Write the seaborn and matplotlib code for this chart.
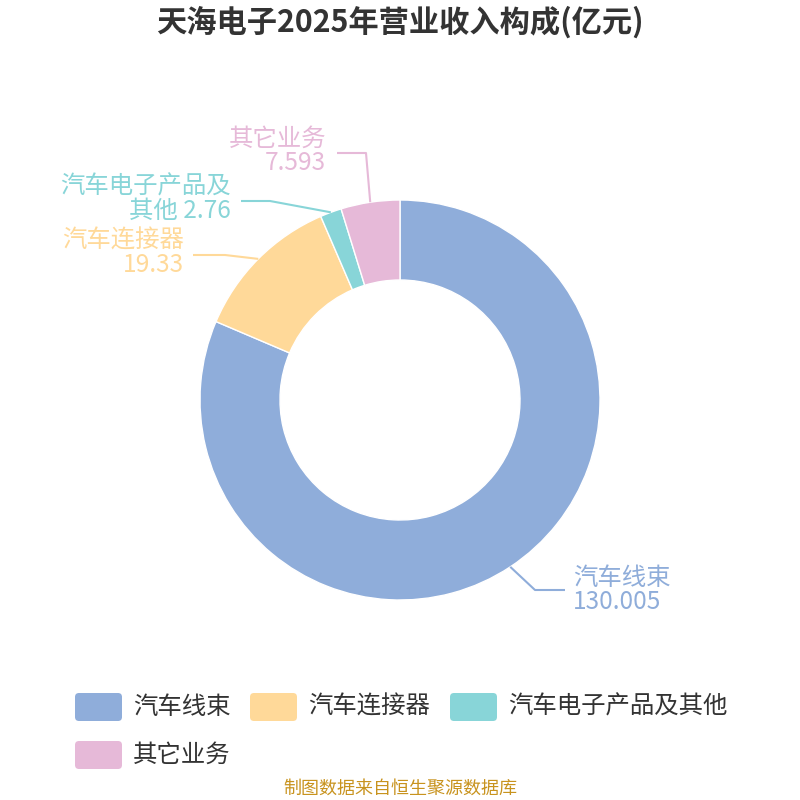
import numpy as np
import matplotlib
matplotlib.use("Agg")
import matplotlib.pyplot as plt
from matplotlib.patches import FancyBboxPatch
import seaborn as sns

# ---- data ----
categories = ["汽车线束", "汽车连接器", "汽车电子产品及其他", "其它业务"]
values = [130.005, 19.33, 2.76, 7.593]
label_texts = ["汽车线束\n130.005", "汽车连接器\n19.33", "汽车电子产品及\n其他 2.76", "其它业务\n7.593"]
colors = ["#8FADDA", "#FFD999", "#88D5D8", "#E6B9D8"]
title = "天海电子2025年营业收入构成(亿元)"
source = "制图数据来自恒生聚源数据库"

sns.set_theme(style="white")
plt.rcParams["font.family"] = ["Noto Sans CJK SC", "DejaVu Sans"]

fig = plt.figure(figsize=(8, 8), dpi=100)
ax = fig.add_axes([0, 0, 1, 1])

def Y(py):
    return 800 - py

cx, cy, R, W = 400, 400, 200, 80
ax.pie(values, colors=colors, startangle=90, counterclock=False,
       radius=R, center=(cx, Y(cy)),
       wedgeprops=dict(width=W, edgecolor="white", linewidth=1))
ax.set_xlim(0, 800)
ax.set_ylim(0, 800)
ax.set_aspect("equal")
ax.axis("off")

# label layout (pixel coords): elbow point, end of horizontal line, text anchor
total = sum(values)
cum = np.cumsum([0] + values)
layout = [
    dict(elbow=(535, 590), end=(565, 590), text=(573, 590), ha="left"),
    dict(elbow=(225, 255), end=(193, 255), text=(184, 253), ha="right"),
    dict(elbow=(270, 201), end=(241, 201), text=(231, 199), ha="right"),
    dict(elbow=(366, 153), end=(337, 153), text=(326, 151), ha="right"),
]
for i, v in enumerate(values):
    mid = (cum[i] + v / 2) / total * 360.0
    ang = np.deg2rad(90 - mid)
    ox = cx + R * np.cos(ang)
    oy = cy - R * np.sin(ang)
    L = layout[i]
    xs = [ox, L["elbow"][0], L["end"][0]]
    ys = [Y(oy), Y(L["elbow"][1]), Y(L["end"][1])]
    ax.plot(xs, ys, color=colors[i], lw=1.5, solid_capstyle="butt")
    ax.text(L["text"][0], Y(L["text"][1]), label_texts[i], color=colors[i],
            fontsize=17.6, ha=L["ha"], va="center", linespacing=0.92,
            multialignment="right" if L["ha"] == "right" else "left")

# title
fig.text(0.5, 1 - 22 / 800, title, ha="center", va="center",
         fontsize=21.8, fontweight="bold", color="#333333")

# legend (manual, rounded boxes)
leg_items = [(75, 707), (250, 707), (450, 707), (75, 755)]
for (lx, ly), name, col in zip(leg_items, categories, colors):
    box = FancyBboxPatch((lx + 4, Y(ly) - 14 + 4), 47 - 8, 28 - 8,
                         boxstyle="round,pad=4", fc=col, ec="none")
    ax.add_patch(box)
    ax.text(lx + 58, Y(ly), name, fontsize=17.6, color="#333333",
            ha="left", va="center")

fig.text(0.5, 1 - 789 / 800, source, ha="center", va="center",
         fontsize=13, color="#C8931E")

fig.savefig("out.png", dpi=100, facecolor="white")
